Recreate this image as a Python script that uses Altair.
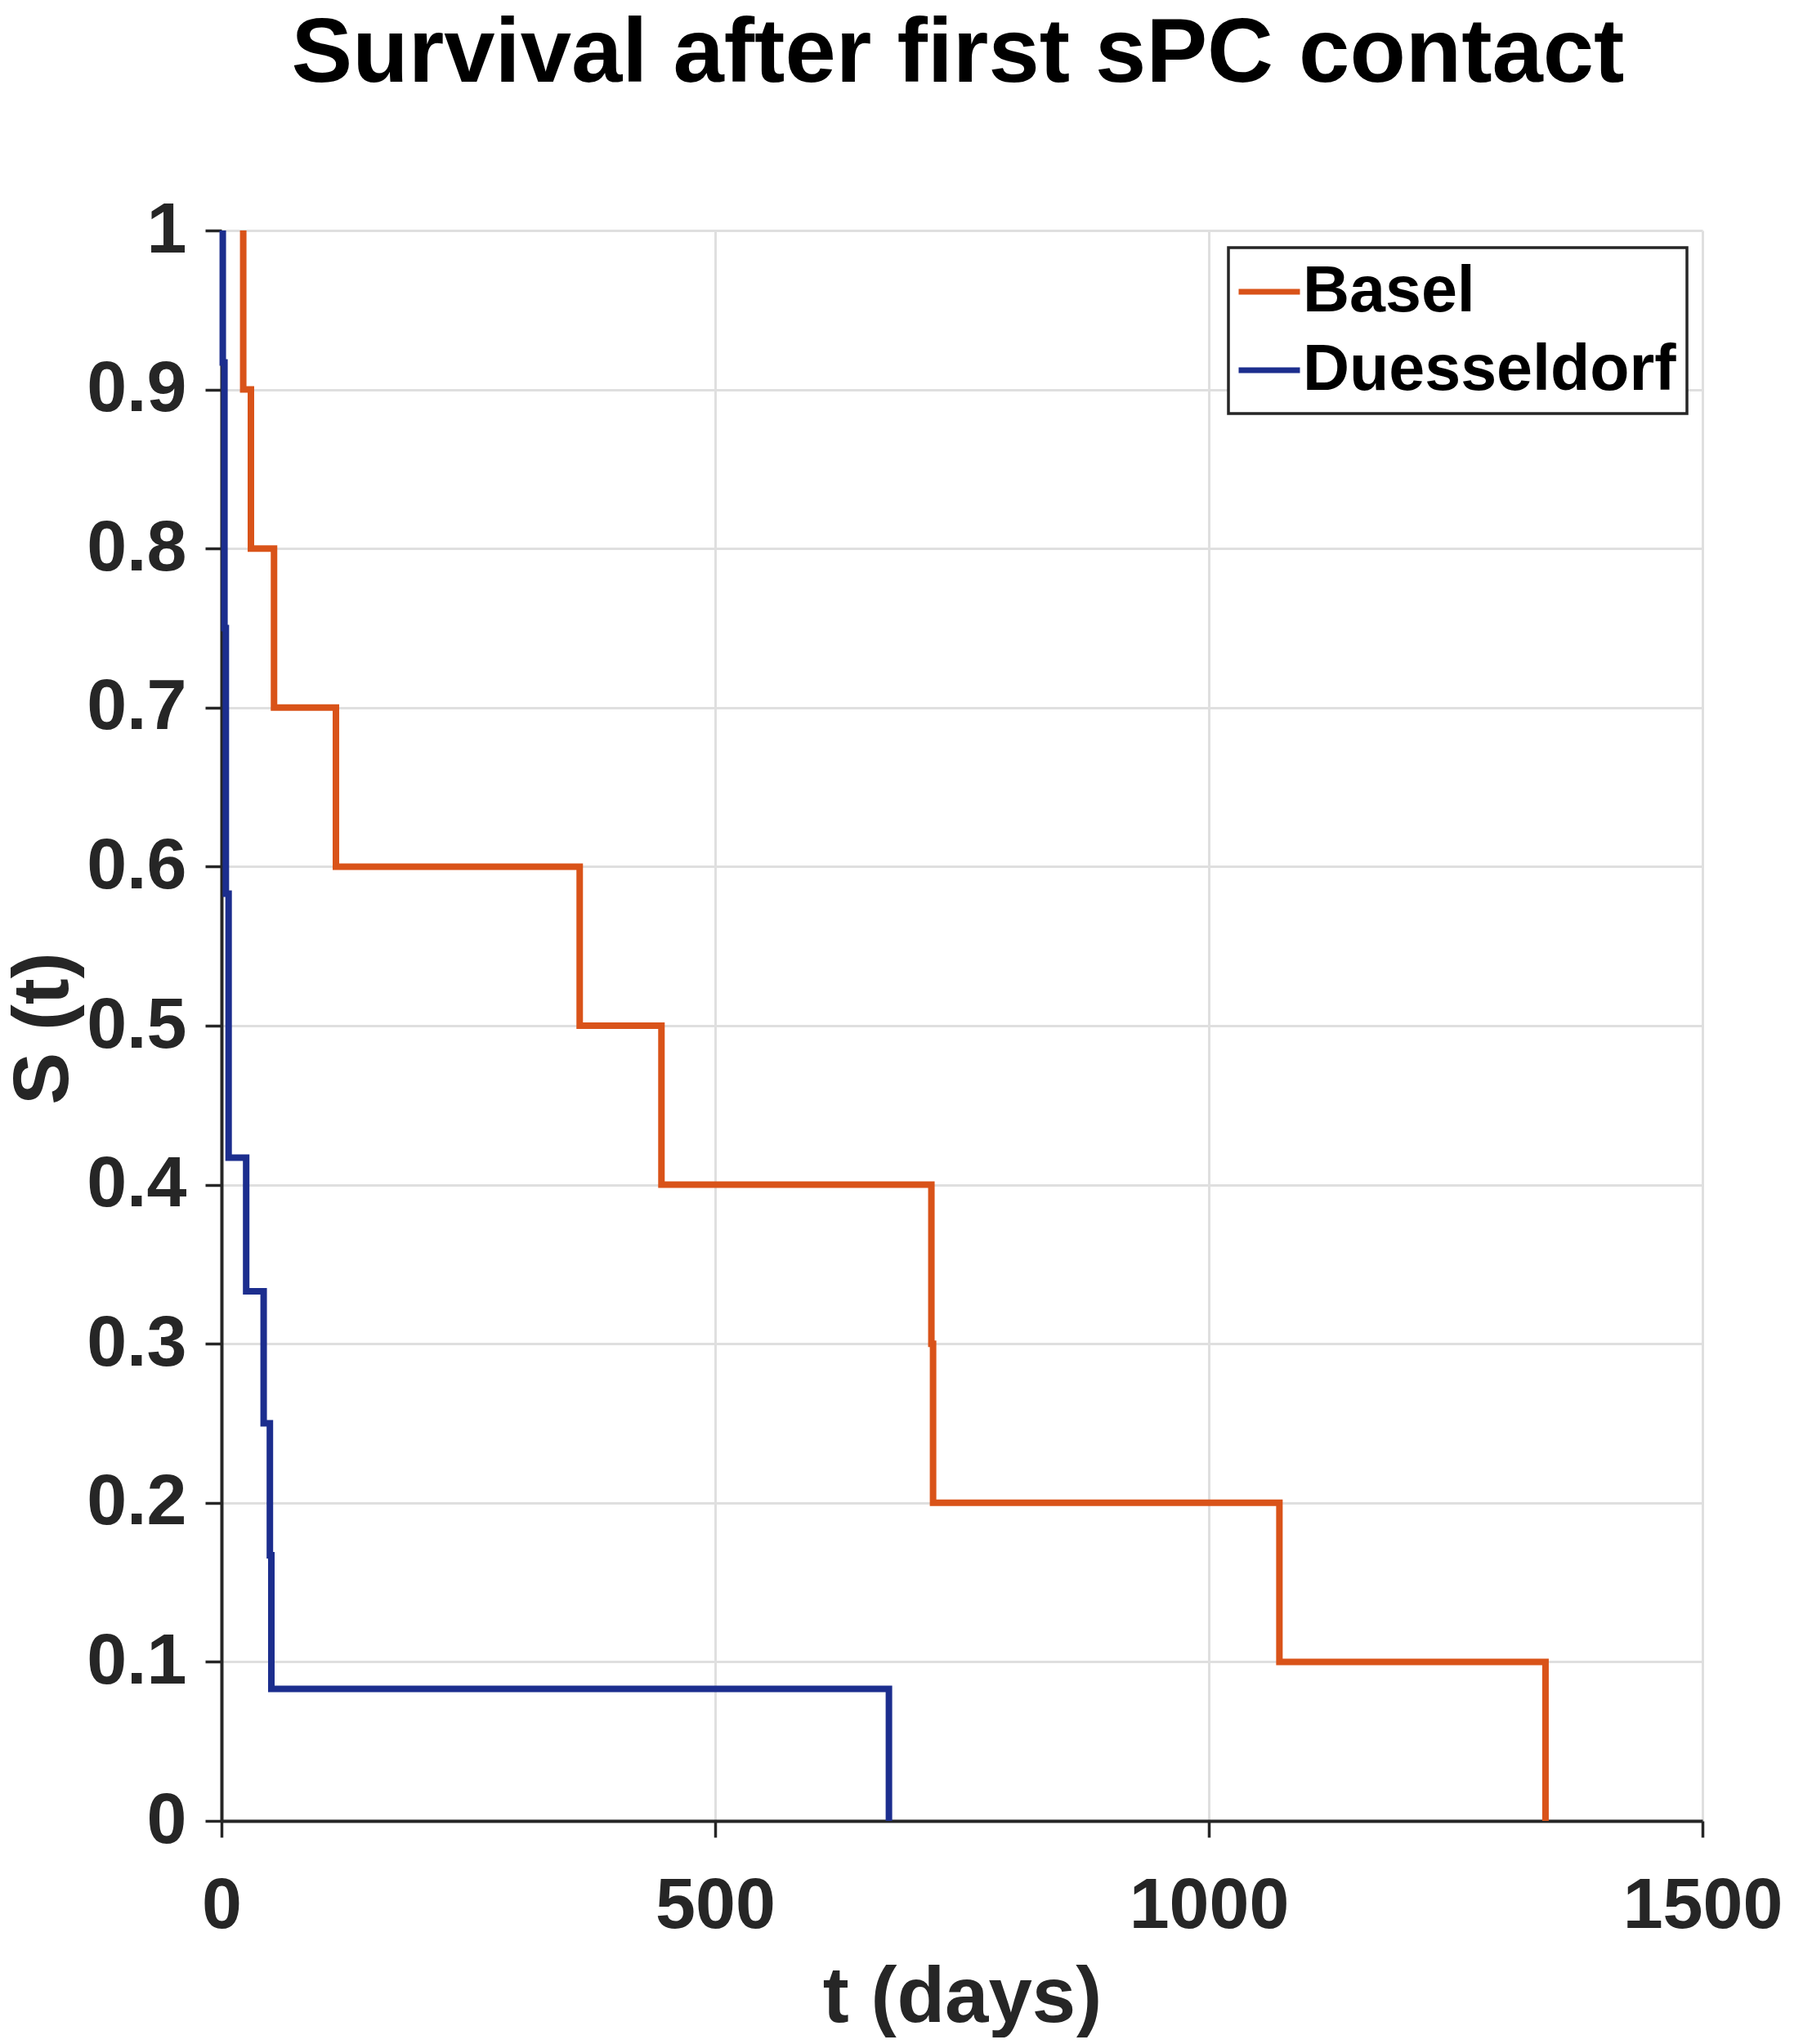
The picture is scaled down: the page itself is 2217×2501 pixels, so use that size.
import altair as alt
import pandas as pd

# Kaplan-Meier style survival steps (stairs: start point, then one point per drop)
basel_t = [22, 22, 29.8, 53.2, 115.9, 362.8, 445.6, 719, 720.7, 1071.5, 1341]
basel_s = [1.0, 0.9, 0.8, 0.7, 0.6, 0.5, 0.4, 0.3, 0.2, 0.1, 0.0]
dues_t = [1.3, 1.3, 3.0, 4.4, 7.2, 25, 42.7, 49, 50.5, 676]
dues_s = [1.0, 0.917, 0.75, 0.583, 0.417, 0.333, 0.25, 0.167, 0.083, 0.0]

series = ["Basel", "Duesseldorf"]
colors = ["#D95319", "#1C2E8E"]
x_ticks = [0, 500, 1000, 1500]
y_ticks = [0, 0.1, 0.2, 0.3, 0.4, 0.5, 0.6, 0.7, 0.8, 0.9, 1.0]

rows = []
for name, ts, ss in [("Basel", basel_t, basel_s), ("Duesseldorf", dues_t, dues_s)]:
    for i, (t, s) in enumerate(zip(ts, ss)):
        rows.append({"city": name, "t": t, "s": s, "i": i})
df = pd.DataFrame(rows)

FONT = "Liberation Sans, Arial, Helvetica, sans-serif"
DARK = "#262626"

chart = alt.Chart(df).mark_line(interpolate="step-after", strokeWidth=8).encode(
    x=alt.X(
        "t:Q",
        scale=alt.Scale(domain=[0, 1500], nice=False, zero=True),
        axis=alt.Axis(
            values=x_ticks,
            format="d",
            title="t (days)",
            labelPadding=40,
            labelFlush=False,
            titleBaseline="alphabetic",
            titleY=245,
        ),
    ),
    y=alt.Y(
        "s:Q",
        scale=alt.Scale(domain=[0, 1], nice=False),
        axis=alt.Axis(
            values=y_ticks,
            labelExpr="datum.value == 0 ? '0' : (datum.value == 1 ? '1' : format(datum.value, '.1f'))",
            title="S (t)",
            labelPadding=23,
            labelFlush=False,
            titleBaseline="alphabetic",
            titleX=-189,
            titleY=976,
        ),
    ),
    color=alt.Color(
        "city:N",
        scale=alt.Scale(domain=series, range=colors),
        legend=alt.Legend(
            title=None,
            orient="none",
            legendX=1232,
            legendY=21,
            symbolType="stroke",
            symbolSize=5625,
            symbolStrokeWidth=7,
            symbolOffset=-4,
            labelOffset=0,
            labelLimit=0,
            rowPadding=15,
            padding=13,
            strokeColor=DARK,
            fillColor="white",
            labelFont=FONT,
            labelFontSize=79,
            labelFontWeight="bold",
            labelColor="black",
        ),
    ),
    order=alt.Order("i:Q"),
).properties(
    width=1812,
    height=1946,
    background="white",
    title=alt.TitleParams(
        text="Survival after first sPC contact",
        font=FONT,
        fontSize=112,
        fontWeight="bold",
        color="black",
        anchor="middle",
        frame="group",
        baseline="alphabetic",
        offset=26,
        dx=-5,
    ),
    padding={"left": 263, "top": 274, "right": 120, "bottom": 265},
    autosize=alt.AutoSizeParams(type="none"),
).configure_axis(
    labelFont=FONT,
    labelFontSize=88,
    labelFontWeight="bold",
    labelColor=DARK,
    labelLimit=0,
    titleFont=FONT,
    titleFontSize=96,
    titleFontWeight="bold",
    titleColor=DARK,
    tickColor=DARK,
    tickWidth=3.5,
    tickSize=20,
    domainColor=DARK,
    domainWidth=4,
    gridColor="#dfdfdf",
    gridWidth=3,
    grid=True,
).configure_legend(
    strokeWidth=3.5,
).configure_view(
    strokeWidth=0,
)

chart.save("out.html", embed_options={"renderer": "svg", "actions": False})
